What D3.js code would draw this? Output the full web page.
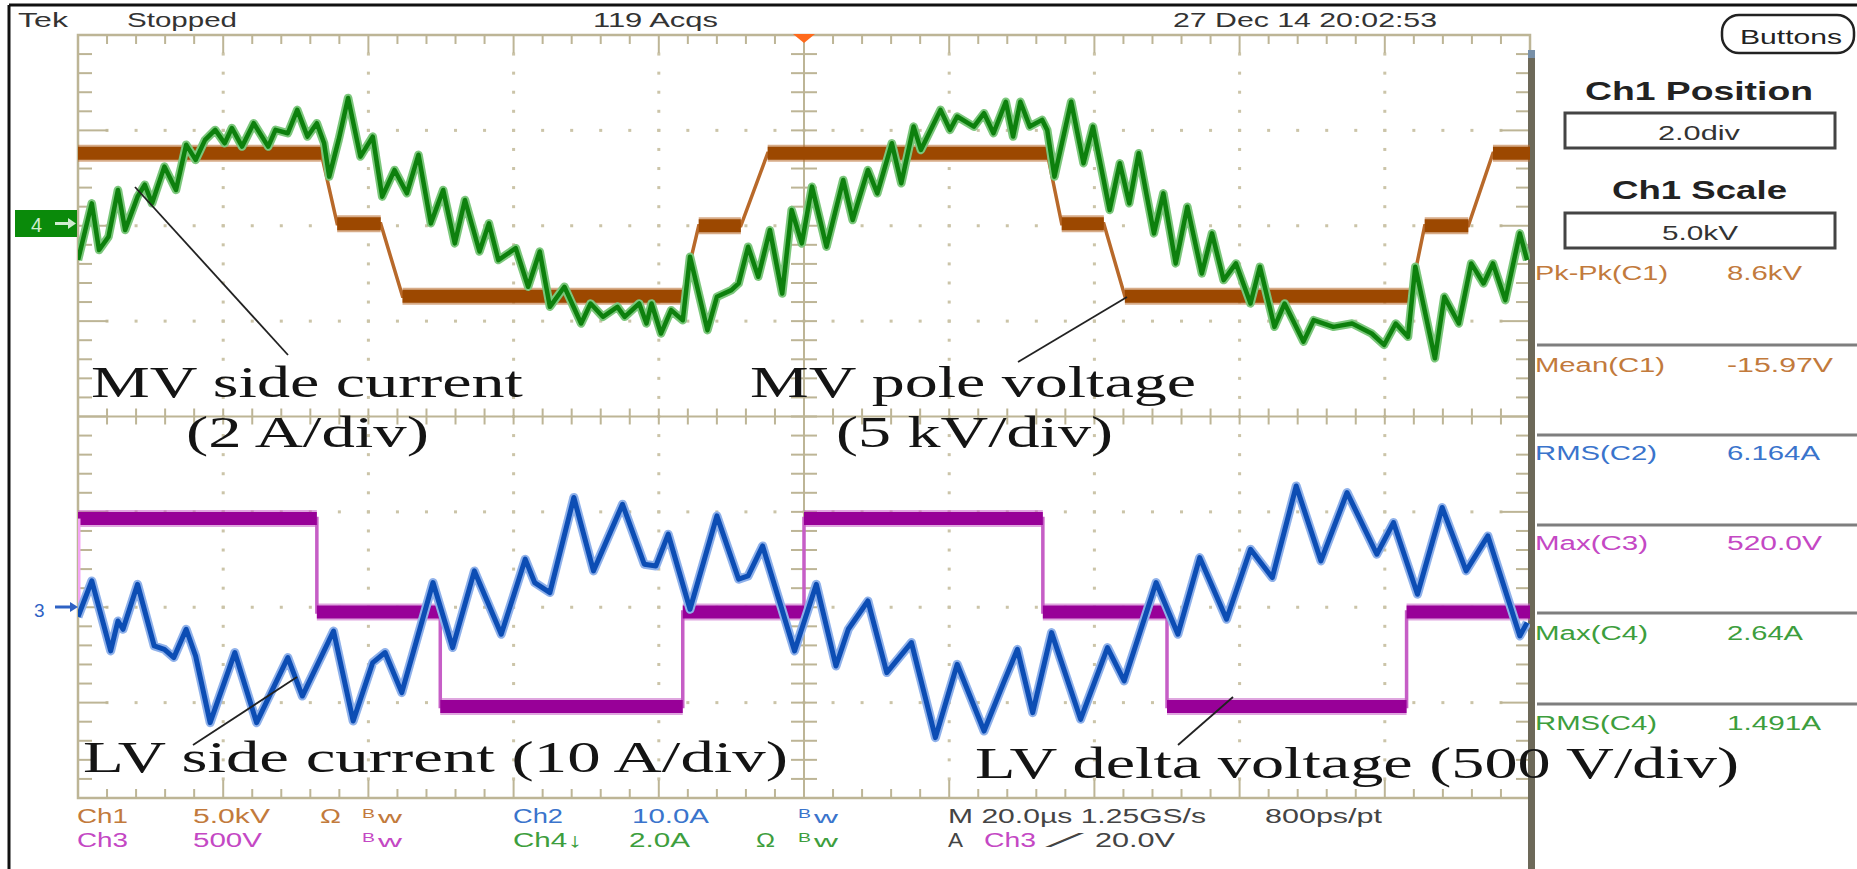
<!DOCTYPE html>
<html>
<head>
<meta charset="utf-8">
<script src="https://cdn.jsdelivr.net/npm/d3@7"></script>
<style>
  body { margin: 0; background: #fff; }
  svg { display: block; }
  text { font-family: "Liberation Sans", Arial, sans-serif; }
  .note { font-family: "Liberation Serif", "Times New Roman", serif; fill: #141414; }
</style>
</head>
<body>
<svg id="scope"></svg>
<script>
// ---- waveform data (time in µs, trigger at 0) ----
// Ch1: MV pole voltage (kV)
const ch1Time = [-100, -66.5, -64.3, -58.3, -55.3, -16.8, -14.5, -8.7, -5.0, 33.5, 35.5, 41.3, 44.2, 83.5, 85.5, 91.5, 94.9, 100];
const ch1Kv   = [3.8, 3.8, 0.1, 0.1, -3.7, -3.7, 0.0, 0.0, 3.8, 3.8, 0.1, 0.1, -3.7, -3.7, 0.0, 0.0, 3.8, 3.8];

// Ch3: LV delta voltage (V)
const ch3Time  = [-100, -100, -67.1, -67.1, -50.1, -50.1, -16.7, -16.7, 0, 0, 32.9, 32.9, 50, 50, 83, 83, 100];
const ch3Volts = [0, 490, 490, 0, 0, -495, -495, 0, 0, 490, 490, 0, 0, -495, -495, 0, 0];

// Ch4: MV side current (A)
const ch4Time = [-100, -98.1, -97.1, -95.8, -94.5, -93.5, -91.8, -90.8, -89.8, -88.1, -86.5, -85.1, -83.8, -82.5, -81.1,
  -79.8, -78.8, -77.4, -75.8, -73.8, -72.8, -71.1, -69.8, -68.4, -67.1, -66.1, -65.4, -64.1, -62.8, -61.1, -59.4,
  -58.1, -56.4, -54.7, -53.1, -51.4, -49.7, -48.1, -46.7, -44.7, -43.4, -42.1, -39.7, -38.0, -36.4, -35.0, -33.0,
  -30.7, -29.4, -27.7, -25.7, -24.7, -22.7, -21.7, -21.0, -19.7, -18.3, -16.7, -15.7, -13.3, -12.0, -10.0, -9.0,
  -7.7, -6.3, -4.7, -3.0, -1.7, -0.3, 1.1, 3.1, 5.4, 6.7, 8.8, 10.1, 12.1, 13.4, 15.1, 16.1, 18.8, 20.1, 21.1,
  23.4, 24.8, 26.1, 27.8, 28.8, 29.8, 31.1, 32.8, 33.5, 34.5, 36.8, 38.5, 39.8, 42.1, 43.5, 44.8, 46.1, 48.2,
  49.5, 51.2, 52.8, 54.8, 56.2, 57.8, 59.5, 61.5, 62.8, 64.8, 66.2, 68.8, 70.2, 72.9, 75.5, 78.2, 79.9, 81.5,
  83.2, 84.2, 86.9, 88.2, 90.2, 91.9, 93.6, 94.9, 96.6, 98.6, 99.6];
const ch4Amps = [-0.82, 0.37, -0.61, -0.33, 0.65, -0.19, 0.51, 0.76, 0.37, 1.14, 0.65, 1.60, 1.28, 1.70, 1.91,
  1.63, 1.95, 1.56, 2.05, 1.56, 1.91, 1.84, 2.33, 1.77, 2.05, 1.63, 0.93, 1.70, 2.58, 1.35, 1.77,
  0.51, 1.07, 0.58, 1.39, -0.05, 0.65, -0.47, 0.44, -0.64, -0.05, -0.82, -0.57, -1.38, -0.64, -1.80, -1.38,
  -2.15, -1.73, -2.01, -1.80, -2.01, -1.73, -2.15, -1.73, -2.36, -1.87, -2.08, -0.75, -2.29, -1.59, -1.45, -1.31,
  -0.54, -1.17, -0.19, -1.52, 0.23, -0.47, 0.72, -0.54, 0.86, 0.02, 1.07, 0.58, 1.63, 0.79, 1.98, 1.49, 2.33, 1.91, 2.19,
  1.98, 2.26, 1.84, 2.50, 1.77, 2.50, 1.98, 2.12, 1.91, 0.93, 2.50, 1.21, 1.98, 0.23, 1.21, 0.37, 1.42, -0.26,
  0.58, -0.89, 0.30, -1.10, -0.26, -1.24, -0.89, -1.73, -0.96, -2.22, -1.73, -2.53, -2.08, -2.22, -2.15, -2.36, -2.60, -2.15,
  -2.43, -0.96, -2.88, -1.59, -2.15, -0.89, -1.31, -0.89, -1.66, -0.26, -0.82];

// Ch2: LV side current (A)
const ch2Time = [-100, -98.1, -95.5, -94.5, -93.8, -91.8, -89.5, -88.1, -86.8, -85.1, -83.8, -81.8, -78.4, -75.4,
  -71.1, -69.1, -64.8, -62.1, -59.4, -57.7, -55.4, -51.1, -48.4, -45.4, -41.7, -38.4, -37.1, -35.0, -31.7, -29.0,
  -25.0, -22.0, -20.4, -18.7, -15.7, -12.0, -9.0, -7.7, -5.7, -1.3, 1.7, 4.4, 6.1, 8.8, 11.4, 14.8, 18.1, 21.1,
  24.8, 27.5, 29.4, 31.5, 34.1, 38.1, 41.8, 44.1, 48.5, 51.5, 54.5, 58.2, 61.5, 64.5, 67.8, 71.2, 74.8, 78.9,
  81.2, 84.5, 87.9, 91.2, 94.2, 98.6, 99.6];
const ch2Amps = [-1.0, 2.76, -4.58, -1.44, -2.31, 2.41, -4.06, -4.41, -5.28, -2.31, -5.11, -12.10, -4.75, -12.10,
  -5.28, -9.31, -2.49, -11.93, -5.80, -4.75, -8.95, 2.59, -4.23, 3.81, -2.83, 5.04, 2.59, 1.54, 11.51, 3.81,
  10.80, 4.51, 4.33, 7.66, -0.21, 9.58, 2.94, 3.28, 6.43, -4.58, 2.41, -6.16, -2.31, 0.66, -6.85, -3.70, -13.67, -5.98,
  -12.98, -7.90, -4.41, -11.05, -2.66, -11.75, -4.23, -7.73, 2.59, -2.83, 5.21, -1.26, 6.08, 3.11, 12.72, 4.86, 12.03, 5.56,
  8.88, 1.36, 10.46, 3.81, 7.48, -3.01, -1.61];

// measurement readouts
const measNames  = ['Pk-Pk(C1)', 'Mean(C1)', 'RMS(C2)', 'Max(C3)', 'Max(C4)', 'RMS(C4)'];
const measValues = ['8.6kV', '-15.97V', '6.164A', '520.0V', '2.64A', '1.491A'];

// ---- layout ----
const W = 1857, H = 869;
const g = { left: 78, right: 1530, top: 35, bottom: 798 };
const col = { ch1: '#9c4800', ch2: '#0c4db4', ch3: '#980098', ch4: '#0d800d',
  t1: '#c27a3c', t2: '#3a74cc', t3: '#c448c4', t4: '#3d9e3d', grid: '#bdb596' };
const chan = {
  ch1: { scale: 5, pos: 2.0 },
  ch2: { scale: 10, pos: -2.0 },
  ch3: { scale: 500, pos: -2.05 },
  ch4: { scale: 2, pos: 2.05 }
};

const svg = d3.select('#scope').attr('width', W).attr('height', H);
svg.append('rect').attr('width', W).attr('height', H).attr('fill', '#fff');

const x = d3.scaleLinear().domain([-100, 100]).range([g.left, g.right]);
const yDiv = d3.scaleLinear().domain([-4, 4]).range([g.bottom, g.top]);
const yOf = c => v => yDiv(v / chan[c].scale + chan[c].pos);

function txt(sel, s, px, py, size, fill, len, extra) {
  const t = sel.append('text').attr('x', px).attr('y', py)
    .style('font-size', size + 'px').attr('fill', fill).text(s);
  if (len) t.attr('textLength', len).attr('lengthAdjust', 'spacingAndGlyphs');
  if (extra) extra(t);
  return t;
}

// outer frame
svg.append('line').attr('x1', 9).attr('x2', W).attr('y1', 5).attr('y2', 5).attr('stroke', '#111').attr('stroke-width', 3);
svg.append('line').attr('x1', 9).attr('x2', 9).attr('y1', 5).attr('y2', H).attr('stroke', '#111').attr('stroke-width', 3);

// ---- graticule ----
const grid = svg.append('g');
// dotted division lines
for (let k = 1; k < 10; k++) {
  if (k === 5) continue;
  for (let i = 1; i < 40; i++) {
    grid.append('rect').attr('x', x(-100 + 20 * k) - 1.5).attr('y', yDiv(-4 + 0.2 * i) - 1.5)
      .attr('width', 3).attr('height', 3).attr('fill', '#cbc4a8');
  }
}
for (let j = 1; j < 8; j++) {
  if (j === 4) continue;
  for (let i = 1; i < 50; i++) {
    grid.append('rect').attr('x', x(-100 + 4 * i) - 1.5).attr('y', yDiv(-4 + j) - 1.5)
      .attr('width', 3).attr('height', 3).attr('fill', '#cbc4a8');
  }
}
// center cross
grid.append('line').attr('x1', g.left).attr('x2', g.right).attr('y1', yDiv(0)).attr('y2', yDiv(0))
  .attr('stroke', col.grid).attr('stroke-width', 2);
grid.append('line').attr('x1', x(0)).attr('x2', x(0)).attr('y1', g.top).attr('y2', g.bottom)
  .attr('stroke', col.grid).attr('stroke-width', 2);
for (let i = 1; i < 50; i++) {
  const px = x(-100 + 4 * i);
  const major = i % 5 === 0;
  grid.append('line').attr('x1', px).attr('x2', px).attr('y1', yDiv(0) - 8).attr('y2', yDiv(0) + 8)
    .attr('stroke', col.grid).attr('stroke-width', 2);
  grid.append('line').attr('x1', px).attr('x2', px).attr('y1', g.top).attr('y2', g.top + (major ? 18 : 9))
    .attr('stroke', col.grid).attr('stroke-width', 2);
  grid.append('line').attr('x1', px).attr('x2', px).attr('y1', g.bottom).attr('y2', g.bottom - (major ? 18 : 9))
    .attr('stroke', col.grid).attr('stroke-width', 2);
}
for (let i = 1; i < 40; i++) {
  const py = yDiv(-4 + 0.2 * i);
  const major = i % 5 === 0;
  grid.append('line').attr('x1', x(0) - 13).attr('x2', x(0) + 13).attr('y1', py).attr('y2', py)
    .attr('stroke', col.grid).attr('stroke-width', 2);
  grid.append('line').attr('x1', g.left).attr('x2', g.left + (major ? 30 : 14)).attr('y1', py).attr('y2', py)
    .attr('stroke', col.grid).attr('stroke-width', 2);
  grid.append('line').attr('x1', g.right).attr('x2', g.right - (major ? 30 : 14)).attr('y1', py).attr('y2', py)
    .attr('stroke', col.grid).attr('stroke-width', 2);
}
// border
grid.append('rect').attr('x', g.left).attr('y', g.top).attr('width', g.right - g.left).attr('height', g.bottom - g.top)
  .attr('fill', 'none').attr('stroke', col.grid).attr('stroke-width', 2.5);
grid.append('rect').attr('x', g.right - 2).attr('y', 50).attr('width', 7).attr('height', H - 50).attr('fill', '#6d6959');
grid.append('rect').attr('x', g.right - 2).attr('y', 50).attr('width', 7).attr('height', 8).attr('fill', '#7890a8');

// trigger marker
svg.append('path').attr('d', `M${x(0) - 11},${g.top - 1}L${x(0) + 11},${g.top - 1}L${x(0)},${g.top + 8}Z`)
  .attr('fill', '#ff6a1c');

// ---- traces ----
svg.append('clipPath').attr('id', 'clip').append('rect')
  .attr('x', g.left).attr('y', g.top).attr('width', g.right - g.left).attr('height', g.bottom - g.top);
const plot = svg.append('g').attr('clip-path', 'url(#clip)');

function stepTrace(times, vals, c, color, edge, firstEdge) {
  const y = yOf(c);
  const pts = times.map((t, i) => [x(t), y(vals[i])]);
  plot.append('path').attr('d', d3.line()(pts)).attr('fill', 'none')
    .attr('stroke', edge).attr('stroke-width', 3.5);
  for (let i = 0; i < pts.length - 1; i++) {
    if (vals[i] === vals[i + 1]) {
      plot.append('line').attr('x1', pts[i][0]).attr('x2', pts[i + 1][0])
        .attr('y1', pts[i][1]).attr('y2', pts[i + 1][1])
        .attr('stroke', edge).attr('stroke-width', 17).attr('opacity', 0.55);
      plot.append('line').attr('x1', pts[i][0]).attr('x2', pts[i + 1][0])
        .attr('y1', pts[i][1]).attr('y2', pts[i + 1][1])
        .attr('stroke', color).attr('stroke-width', 13);
    }
  }
  if (firstEdge) {
    plot.append('line').attr('x1', pts[0][0] + 1).attr('x2', pts[1][0] + 1)
      .attr('y1', pts[0][1]).attr('y2', pts[1][1]).attr('stroke', firstEdge).attr('stroke-width', 3);
  }
}

function noisyTrace(times, vals, c, color, halo, w) {
  const y = yOf(c);
  const line = d3.line().x((d, i) => x(times[i])).y(d => y(d));
  plot.append('path').attr('d', line(vals)).attr('fill', 'none')
    .attr('stroke', halo).attr('stroke-width', w + 4).attr('stroke-linejoin', 'round');
  plot.append('path').attr('d', line(vals)).attr('fill', 'none')
    .attr('stroke', color).attr('stroke-width', w).attr('stroke-linejoin', 'round');
}

stepTrace(ch1Time, ch1Kv, 'ch1', col.ch1, '#b8692a');
noisyTrace(ch4Time, ch4Amps, 'ch4', col.ch4, '#7cc77c', 4.5);
stepTrace(ch3Time, ch3Volts, 'ch3', col.ch3, '#c65ec6', '#f4a6f4');
noisyTrace(ch2Time, ch2Amps, 'ch2', col.ch2, '#8fb1ea', 5);

// channel ground markers
svg.append('rect').attr('x', 15).attr('y', 210).attr('width', 62).attr('height', 27).attr('fill', '#0a8a0a');
txt(svg, '4', 31, 232, 20, '#cfeccf');
svg.append('line').attr('x1', 55).attr('x2', 70).attr('y1', 223.5).attr('y2', 223.5).attr('stroke', '#cfeccf').attr('stroke-width', 3);
svg.append('path').attr('d', 'M68,218L76,223.5L68,229Z').attr('fill', '#cfeccf');
txt(svg, '3', 34, 617, 19, '#2f62c4');
svg.append('line').attr('x1', 55).attr('x2', 72).attr('y1', 607).attr('y2', 607).attr('stroke', '#2f62c4').attr('stroke-width', 3);
svg.append('path').attr('d', 'M70,602L78,607L70,612Z').attr('fill', '#2f62c4');

// ---- annotations ----
const ann = svg.append('g');
[[135, 187, 288, 355], [1127, 297, 1018, 362], [297, 677, 193, 745], [1233, 697, 1178, 745]].forEach(l => {
  ann.append('line').attr('x1', l[0]).attr('y1', l[1]).attr('x2', l[2]).attr('y2', l[3])
    .attr('stroke', '#222').attr('stroke-width', 1.8);
});
const note = (s, px, py, len) => txt(ann, s, px, py, 44, '#141414', len, t => t.attr('class', 'note'));
note('MV side current', 91, 397, 432);
note('(2 A/div)', 186, 447, 243);
note('MV pole voltage', 750, 397, 446);
note('(5 kV/div)', 836, 447, 277);
note('LV side current (10 A/div)', 83, 772, 705);
note('LV delta voltage (500 V/div)', 975, 778, 764);

// ---- top status line ----
txt(svg, 'Tek', 18, 27, 21, '#333', 50);
txt(svg, 'Stopped', 127, 27, 21, '#333', 110);
txt(svg, '119 Acqs', 593, 27, 21, '#333', 125);
txt(svg, '27 Dec 14 20:02:53', 1173, 27, 21, '#333', 264);

// ---- right panel ----
svg.append('rect').attr('x', 1722).attr('y', 15).attr('width', 132).attr('height', 38).attr('rx', 17)
  .attr('fill', '#fff').attr('stroke', '#222').attr('stroke-width', 2.5);
txt(svg, 'Buttons', 1740, 44, 21, '#222', 102);
txt(svg, 'Ch1 Position', 1585, 100, 25, '#222', 228, t => t.style('font-weight', 'bold'));
svg.append('rect').attr('x', 1565).attr('y', 113).attr('width', 270).attr('height', 35)
  .attr('fill', '#fff').attr('stroke', '#444').attr('stroke-width', 3);
txt(svg, '2.0div', 1658, 140, 21, '#333', 82);
txt(svg, 'Ch1 Scale', 1612, 199, 25, '#222', 175, t => t.style('font-weight', 'bold'));
svg.append('rect').attr('x', 1565).attr('y', 213).attr('width', 270).attr('height', 35)
  .attr('fill', '#fff').attr('stroke', '#444').attr('stroke-width', 3);
txt(svg, '5.0kV', 1662, 240, 21, '#333', 76);

const measColor = [col.t1, col.t1, col.t2, col.t3, col.t4, col.t4];
const measBase = [280, 372, 460, 550, 640, 730];
const measNameLen = [133, 130, 122, 113, 113, 122];
const measValLen = [75, 106, 93, 95, 76, 94];
[345, 435, 525, 613, 704].forEach(py => {
  svg.append('line').attr('x1', 1537).attr('x2', W).attr('y1', py).attr('y2', py)
    .attr('stroke', '#7e7e7e').attr('stroke-width', 3);
});
measNames.forEach((n, i) => {
  txt(svg, n, 1535, measBase[i], 20, measColor[i], measNameLen[i]);
  txt(svg, measValues[i], 1727, measBase[i], 20, measColor[i], measValLen[i]);
});

// ---- bottom status ----
const bw = (px, py, fill) => {
  txt(svg, 'B', px, py - 5, 12, fill, 13);
  txt(svg, 'w', px + 16, py, 17, fill, 24);
};
txt(svg, 'Ch1', 77, 823, 20, col.t1, 51);
txt(svg, '5.0kV', 193, 823, 20, col.t1, 77);
txt(svg, 'Ω', 320, 823, 20, col.t1, 21);
bw(362, 823, col.t1);
txt(svg, 'Ch2', 513, 823, 20, col.t2, 50);
txt(svg, '10.0A', 632, 823, 20, col.t2, 77);
bw(798, 823, col.t2);
txt(svg, 'Ch3', 77, 847, 20, col.t3, 51);
txt(svg, '500V', 193, 847, 20, col.t3, 69);
bw(362, 847, col.t3);
txt(svg, 'Ch4↓', 513, 847, 20, col.t4, 69);
txt(svg, '2.0A', 629, 847, 20, col.t4, 61);
txt(svg, 'Ω', 756, 847, 20, col.t4, 19);
bw(798, 847, col.t4);
txt(svg, 'M 20.0µs 1.25GS/s', 948, 823, 20, '#444', 258);
txt(svg, '800ps/pt', 1265, 823, 20, '#444', 117);
txt(svg, 'A', 948, 847, 20, '#444', 15);
txt(svg, 'Ch3', 984, 847, 20, col.t3, 52);
txt(svg, '⁄', 1061, 847, 20, '#444', 13);
txt(svg, '20.0V', 1095, 847, 20, '#444', 80);
</script>
</body>
</html>
